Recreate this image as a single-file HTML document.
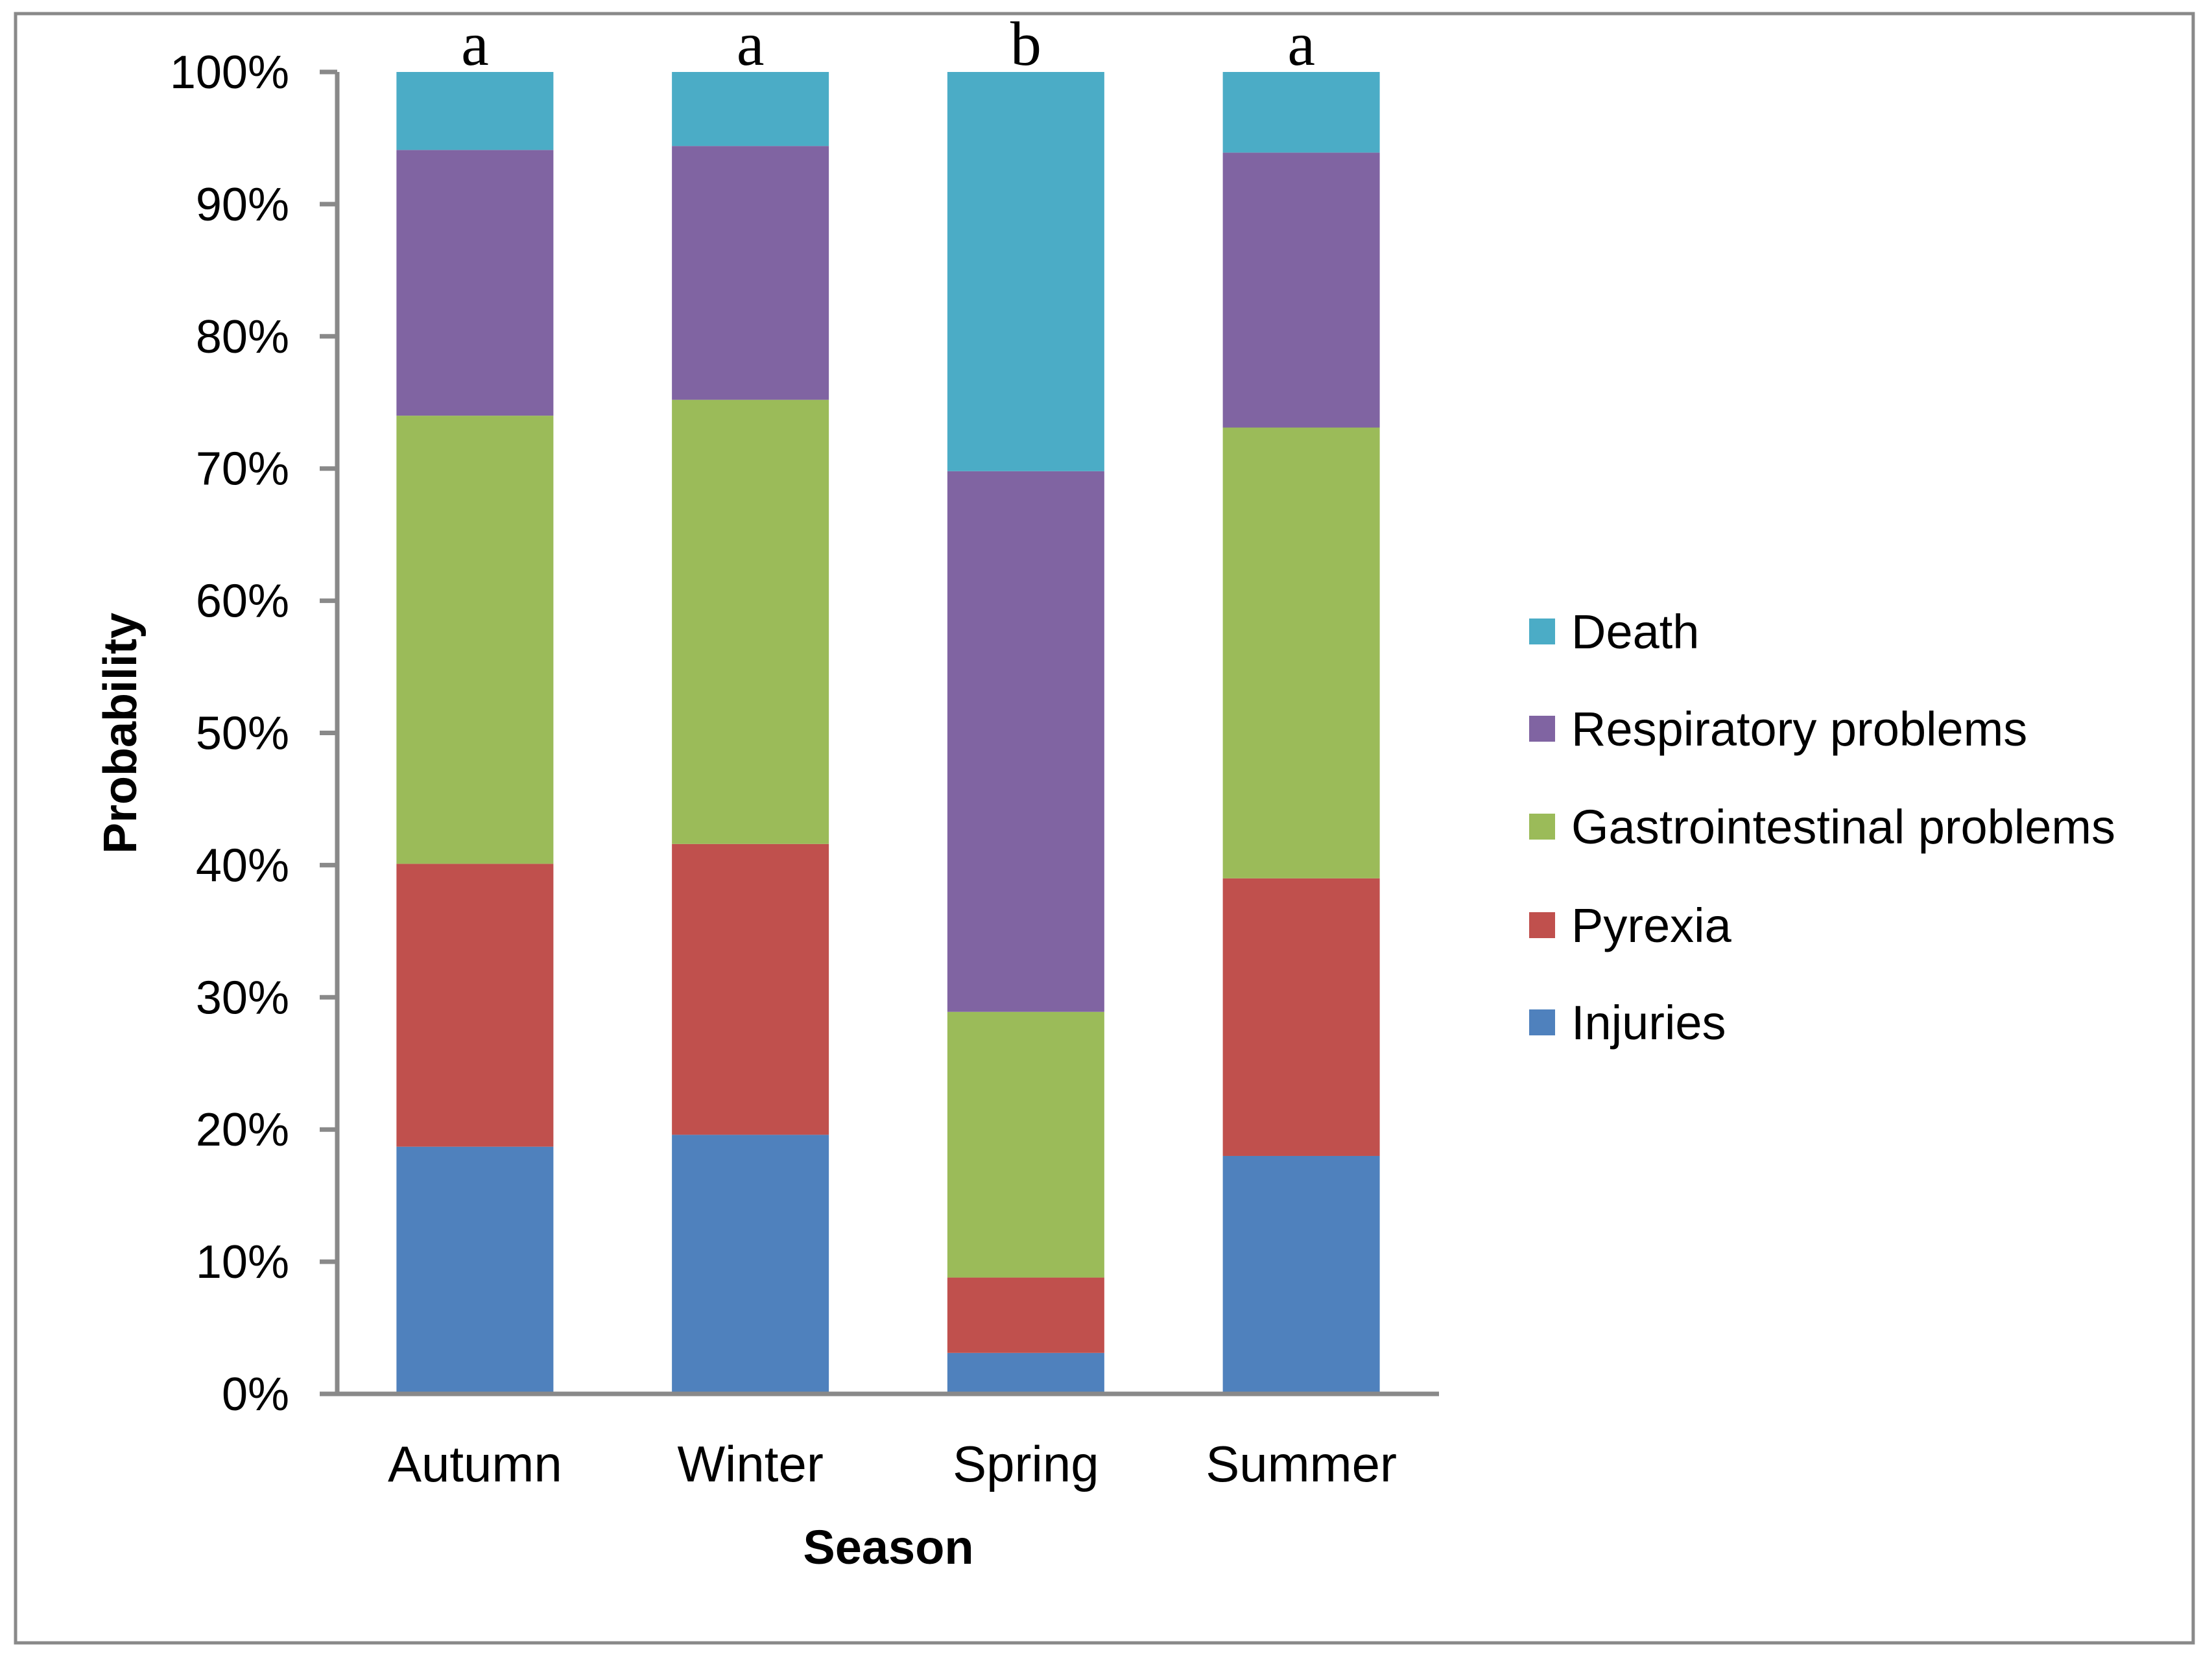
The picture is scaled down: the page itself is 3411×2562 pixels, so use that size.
<!DOCTYPE html>
<html><head><meta charset="utf-8"><style>
html,body{margin:0;padding:0;background:#fff;}
svg{display:block;}
text{font-family:"Liberation Sans",sans-serif;fill:#000;}
</style></head><body>
<svg id="chart" width="3411" height="2562" viewBox="0 0 3411 2562" xmlns="http://www.w3.org/2000/svg">
<rect x="24" y="21" width="3358" height="2513" fill="#fff" stroke="#898989" stroke-width="5"/>
<g id="bars"></g>
<g id="axes"></g>
<g id="legend"></g>
</svg>
<script>
const categories = ["Autumn","Winter","Spring","Summer"];
const sigLetters = ["a","a","b","a"];
const seriesNames = ["Injuries","Pyrexia","Gastrointestinal problems","Respiratory problems","Death"];
const injuries = [18.7, 19.6, 3.1, 18.0];
const pyrexia = [21.4, 22.0, 5.7, 21.0];
const gastro = [33.9, 33.6, 20.1, 34.1];
const respiratory = [20.1, 19.2, 40.9, 20.8];
const death = [5.9, 5.6, 30.2, 6.1];
const yTicks = [0,10,20,30,40,50,60,70,80,90,100];
const yTickLabels = ["0%","10%","20%","30%","40%","50%","60%","70%","80%","90%","100%"];

const NS="http://www.w3.org/2000/svg";
const colors=["#4f81bd","#c0504d","#9bbb59","#8064a2","#4bacc6"];
const series=[injuries,pyrexia,gastro,respiratory,death];
const X0=520, X1=2219, Y0=2150, Y1=111, BW=242;
const band=(X1-X0)/categories.length;
const xC=i=>X0+band*(i+0.5);
const yS=v=>Y0-(v/100)*(Y0-Y1);
function mk(tag,attrs,parent){const e=document.createElementNS(NS,tag);for(const k in attrs)e.setAttribute(k,attrs[k]);parent.appendChild(e);return e;}
const gB=document.getElementById('bars'),gA=document.getElementById('axes'),gL=document.getElementById('legend');
const slug=s=>s.toLowerCase().replace(/[^a-z]+/g,'-');
categories.forEach((c,i)=>{
  let cum=0;
  series.forEach((s,j)=>{
    const r=mk('rect',{x:xC(i)-BW/2,y:yS(cum+s[i]),width:BW,height:yS(cum)-yS(cum+s[i]),fill:colors[j]},gB);
    
    
    cum+=s[i];
  });
  const t=mk('text',{x:xC(i),y:100,'text-anchor':'middle','font-size':96,style:'font-family:"Liberation Serif",serif'},gB);
  t.textContent=sigLetters[i];
  
  
  const l=mk('text',{x:xC(i),y:2285,'text-anchor':'middle','font-size':78},gA);
  l.textContent=c;
  
  
});
const ya=mk('line',{x1:X0,y1:Y1,x2:X0,y2:Y0,stroke:'#898989','stroke-width':7},gA);


const xa=mk('line',{x1:493,y1:Y0,x2:X1,y2:Y0,stroke:'#898989','stroke-width':7},gA);


yTicks.forEach((v,i)=>{
  const tk=mk('line',{x1:493,y1:yS(v),x2:X0,y2:yS(v),stroke:'#898989','stroke-width':7},gA);
  
  
  const t=mk('text',{x:446,y:yS(v)+25,'text-anchor':'end','font-size':72},gA);
  t.textContent=yTickLabels[i];
  
  
});
const xt=mk('text',{x:1370,y:2412,'text-anchor':'middle','font-size':74,'font-weight':'bold'},gA);
xt.textContent='Season';


const yt=mk('text',{x:0,y:0,'text-anchor':'middle','font-size':72,'font-weight':'bold',transform:'translate(210,1131) rotate(-90)'},gA);
yt.textContent='Probability';


const legendRows=[974,1124,1275,1427,1577];
for(let j=4;j>=0;j--){
  const row=4-j;
  const sq=mk('rect',{x:2358,y:legendRows[row]-20,width:40,height:40,fill:colors[j]},gL);
  
  
  const t=mk('text',{x:2423,y:legendRows[row]+26,'font-size':74},gL);
  t.textContent=seriesNames[j];
  
  
}
</script>
</body></html>
